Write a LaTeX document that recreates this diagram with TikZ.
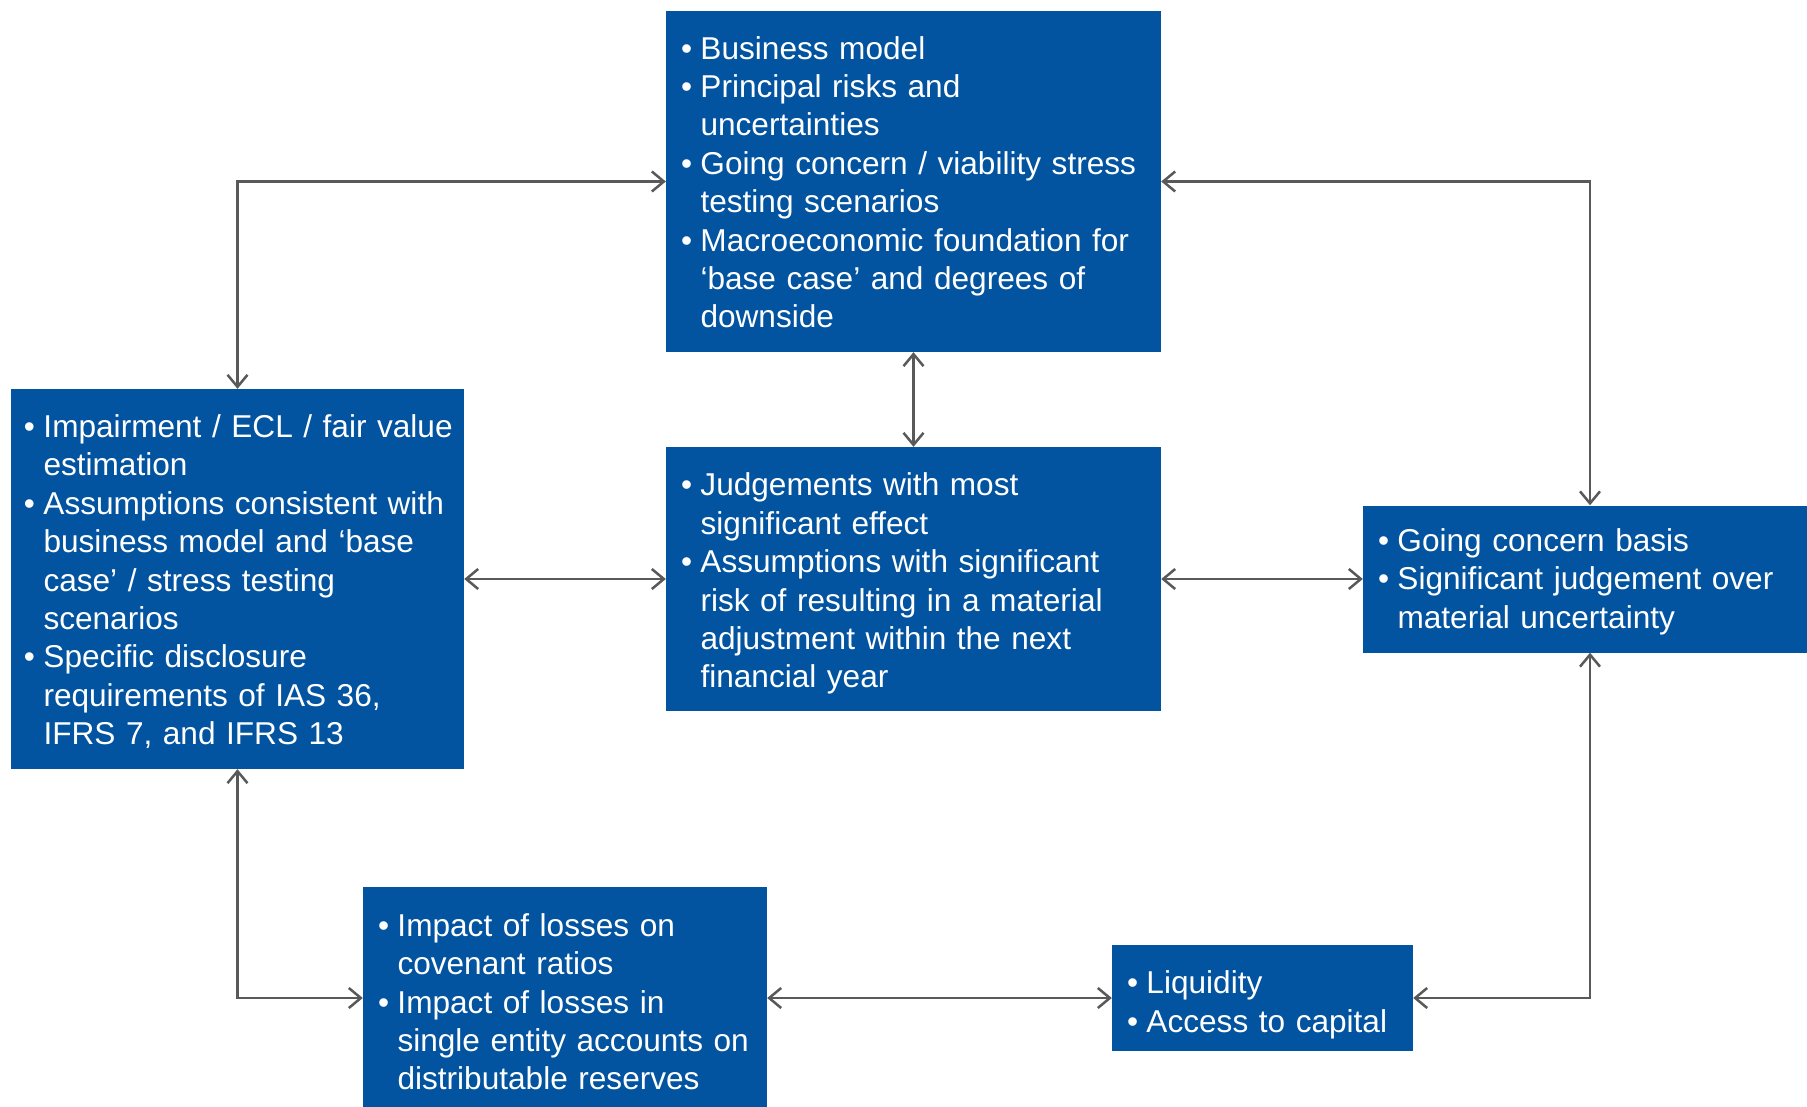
\documentclass[tikz,border=0pt]{standalone}
\usepackage{fontspec}
\setmainfont{Liberation Sans}
\usetikzlibrary{arrows.meta}
\definecolor{kblue}{RGB}{2,83,160}
\definecolor{lgray}{RGB}{89,89,89}
\newcommand\bul{\par\noindent\hangindent=19.5pt\hangafter=1\makebox[19.5pt][l]{•}}
\newcommand\nl{\newline}
\newcommand\eb[1]{\par\vspace{#1}}
\newcommand\lpad[1]{\leftskip=#1\relax}
\begin{document}
\begin{tikzpicture}[x=1pt,y=-1pt,
  >={Straight Barb[length=12pt,width=20pt]},
  box/.style={fill=kblue, text=white, font=\fontsize{31.6}{38.4}\selectfont,
    inner xsep=0pt, inner ysep=0pt, align=left, anchor=center},
  conn/.style={<->, draw=lgray, line width=2.5pt}]
\useasboundingbox[fill=white] (0,0) rectangle (1807,1107);

\node[box, minimum width=495pt, minimum height=341pt, text width=495pt] (top) at (913.5,181.5)
 {\lpad{15pt}\bul Business model
  \bul Principal risks and\nl uncertainties
  \bul Going concern / viability stress\nl testing scenarios
  \bul Macroeconomic foundation for\nl ‘base case’ and degrees of\nl downside\eb{14pt}};

\node[box, minimum width=453pt, minimum height=380pt, text width=453pt] (left) at (237.5,579)
 {\lpad{13pt}\bul Impairment / ECL / fair value\nl estimation
  \bul Assumptions consistent with\nl business model and ‘base\nl case’ / stress testing\nl scenarios
  \bul Specific disclosure\nl requirements of IAS 36,\nl IFRS 7, and IFRS 13\eb{10pt}};

\node[box, minimum width=495pt, minimum height=264pt, text width=495pt] (center) at (913.5,579)
 {\lpad{15pt}\bul Judgements with most\nl significant effect
  \bul Assumptions with significant\nl risk of resulting in a material\nl adjustment within the next\nl financial year\eb{6pt}};

\node[box, minimum width=454pt, minimum height=147pt, text width=454pt] (right) at (1590,579)
 {\lpad{15pt}\bul Going concern basis
  \bul Significant judgement over\nl material uncertainty\eb{10pt}};

\node[box, minimum width=404pt, minimum height=222pt, text width=404pt] (bl) at (565,998)
 {\lpad{15pt}\bul Impact of losses on\nl covenant ratios
  \bul Impact of losses in\nl single entity accounts on\nl distributable reserves\eb{8pt}};

\node[box, minimum width=301pt, minimum height=106pt, text width=301pt] (br) at (1262.5,998)
 {\lpad{15pt}\bul Liquidity
  \bul Access to capital\eb{2pt}};

\draw[conn] (left.north) |- (top.west);
\draw[conn] (top.east) -| (right.north);
\draw[conn] (top.south) -- (center.north);
\draw[conn] (left.east) -- (center.west);
\draw[conn] (center.east) -- (right.west);
\draw[conn] (left.south) |- (bl.west);
\draw[conn] (bl.east) -- (br.west);
\draw[conn] (br.east) -| (right.south);
\end{tikzpicture}
\end{document}
